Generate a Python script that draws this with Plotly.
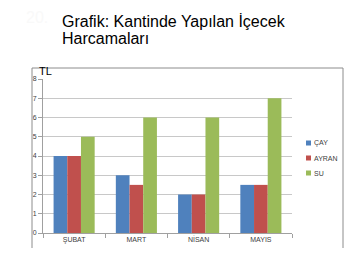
import plotly.graph_objects as go

categories = ["ŞUBAT", "MART", "NİSAN", "MAYIS"]
cay = [4, 3, 2, 2.5]
ayran = [4, 2.5, 2, 2.5]
su = [5, 6, 6, 7]
series_names = ["ÇAY", "AYRAN", "SU"]
colors = ["#4F81BD", "#C0504D", "#9BBB59"]
y_ticks = [0, 1, 2, 3, 4, 5, 6, 7, 8]
title_lines = ["Grafik: Kantinde Yapılan İçecek", "Harcamaları"]

W, H = 344, 258
L, R, T, B = 43, 0, 79, 25
plot_right = 292
pw, ph = W - L - R, H - T - B

def px_x(x):
    return (x - L) / pw

def px_y(y):
    return (H - B - y) / ph

fig = go.Figure()
for name, vals, col in zip(series_names, [cay, ayran, su], colors):
    fig.add_trace(go.Bar(x=categories, y=vals, name=name, showlegend=False,
                         marker=dict(color=col, line=dict(width=0))))

shapes = [
    dict(type="line", xref="paper", yref="paper", x0=px_x(32), x1=px_x(32), y0=px_y(68), y1=px_y(248),
         line=dict(color="#8C8C8C", width=1)),
    dict(type="line", xref="paper", yref="paper", x0=px_x(32), x1=px_x(343), y0=px_y(68), y1=px_y(68),
         line=dict(color="#8C8C8C", width=1)),
    dict(type="line", xref="paper", yref="paper", x0=px_x(343), x1=px_x(343), y0=px_y(68), y1=px_y(248),
         line=dict(color="#8C8C8C", width=1)),
]
annotations = [
    dict(text="20.", xref="paper", yref="paper", x=px_x(24), y=px_y(17), xanchor="left", yanchor="middle",
         showarrow=False, font=dict(size=16, color="#F9F9F9", family="Liberation Sans, Arial, sans-serif")),
    dict(text="TL", xref="paper", yref="paper", x=px_x(37), y=px_y(63), xanchor="left", yanchor="top",
         showarrow=False, font=dict(size=11, color="#000000")),
]
for line, yy in zip(title_lines, [21, 38.5]):
    annotations.append(dict(text=line, xref="paper", yref="paper", x=px_x(60), y=px_y(yy),
                            xanchor="left", yanchor="middle", showarrow=False,
                            font=dict(size=16, color="#000000", family="Liberation Sans, Arial, sans-serif")))
# manual legend
leg_y = [143, 158, 173]
for name, col, yy in zip(series_names, colors, leg_y):
    shapes.append(dict(type="rect", xref="paper", yref="paper",
                       x0=px_x(306), x1=px_x(311), y0=px_y(yy - 2.5), y1=px_y(yy + 2.5),
                       fillcolor=col, line=dict(width=0)))
    annotations.append(dict(text=name, xref="paper", yref="paper", x=px_x(312), y=px_y(yy),
                            xanchor="left", yanchor="middle", showarrow=False,
                            font=dict(size=7, color="#404040")))

fig.update_layout(
    width=W, height=H,
    margin=dict(l=L, r=R, t=T, b=B),
    paper_bgcolor="white", plot_bgcolor="white",
    barmode="group", bargap=0.34, bargroupgap=0,
    font=dict(family="Liberation Sans, Arial, sans-serif", size=7, color="#404040"),
    showlegend=False,
    xaxis=dict(domain=[0, (plot_right - L) / pw], showgrid=False, showline=True, linecolor="#A0A0A0", linewidth=1,
               ticks="outside", ticklen=4, tickcolor="#A0A0A0", tickson="boundaries",
               tickfont=dict(size=7, color="#404040")),
    yaxis=dict(range=[0, 8], tickvals=y_ticks, showgrid=True, gridcolor="#C8C8C8", gridwidth=1,
               showline=True, linecolor="#A0A0A0", linewidth=1, zeroline=False,
               ticks="outside", ticklen=4, tickcolor="#A0A0A0",
               tickfont=dict(size=7, color="#404040")),
    shapes=shapes,
    annotations=annotations,
)

fig.write_html("out.html")
